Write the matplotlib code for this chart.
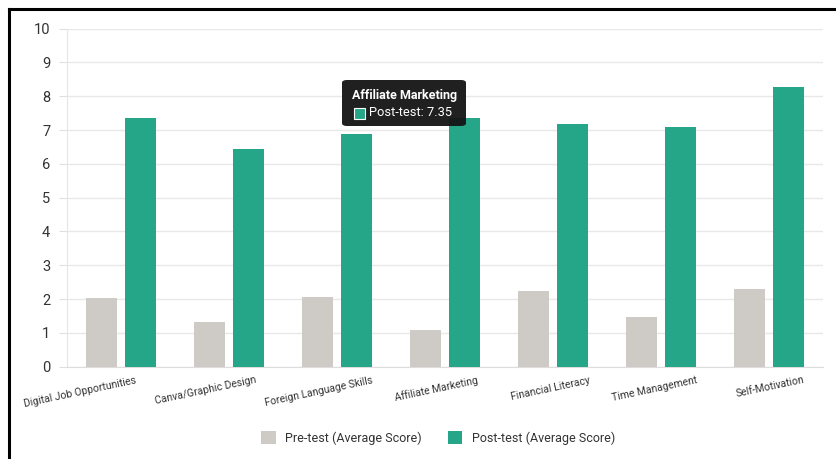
import matplotlib
matplotlib.use("Agg")
import matplotlib.pyplot as plt
import matplotlib.transforms as mtransforms
from matplotlib.patches import FancyBboxPatch, Rectangle
from matplotlib.lines import Line2D
import numpy as np

categories = ["Digital Job Opportunities", "Canva/Graphic Design", "Foreign Language Skills",
              "Affiliate Marketing", "Financial Literacy", "Time Management", "Self-Motivation"]
pre_test = [2.02, 1.31, 2.07, 1.09, 2.23, 1.47, 2.30]
post_test = [7.37, 6.45, 6.88, 7.35, 7.19, 7.09, 8.28]
y_ticks = [0, 1, 2, 3, 4, 5, 6, 7, 8, 9, 10]
series_names = ["Pre-test (Average Score)", "Post-test (Average Score)"]
tooltip_title = "Affiliate Marketing"
tooltip_text = "Post-test: 7.35"

PRE_C = "#CECBC6"
POST_C = "#26A688"
FONT = ["Roboto", "DejaVu Sans"]
plt.rcParams['font.family'] = FONT

fig = plt.figure(figsize=(8.36, 4.59), dpi=100)
fig.patch.set_facecolor("white")
ax = fig.add_axes([67/836, 92.3/459, (823-67)/836, (366.7-28.7)/459])

x = np.arange(len(categories))
w = 0.287
off = 0.176
ax.bar(x - off, pre_test, width=w, color=PRE_C, zorder=3, label=series_names[0])
ax.bar(x + off, post_test, width=w, color=POST_C, zorder=3, label=series_names[1])

ax.set_xlim(-0.5, len(categories) - 0.5)
ax.set_ylim(0, 10)
ax.set_yticks(y_ticks)
ax.set_yticklabels([str(t) for t in y_ticks], fontsize=10.5, color="#333333")
ax.yaxis.grid(True, color="#E8E8E8", linewidth=1, zorder=0)
ax.tick_params(axis='y', length=6, color="#E0E0E0", pad=6)
ax.tick_params(axis='x', length=0, pad=6)
for s in ["top", "right"]:
    ax.spines[s].set_visible(False)
ax.spines["left"].set_color("#E6E6E6")
ax.spines["bottom"].set_color("#DDDDDD")

ax.set_xticks(x)
ax.set_xticklabels(categories, fontsize=7.5, color="#333333", rotation=12,
                   ha="right", va="top", rotation_mode="anchor")
offsets = [14, 26, 35, 32, 36, 35, 34]
for lab, o in zip(ax.get_xticklabels(), offsets):
    lab.set_transform(lab.get_transform() + mtransforms.ScaledTranslation(o/100, 0, fig.dpi_scale_trans))

# tooltip
tx0, ty0, tw, th = 342/836, 1 - 126/459, 124/836, 46/459
box = FancyBboxPatch((tx0, ty0), tw, th, boxstyle="round,pad=0,rounding_size=0.006",
                     transform=fig.transFigure, facecolor="#141414", edgecolor="none", alpha=0.95, zorder=10)
fig.patches.append(box)
fig.text(405/836, 1 - 95/459, tooltip_title, color="white", fontsize=9, fontweight="bold",
         ha="center", va="center", zorder=11)
fig.patches.append(Rectangle((354/836, 1 - 119/459), 11/836, 11/459, transform=fig.transFigure,
                             facecolor=POST_C, edgecolor="white", linewidth=0.8, zorder=11))
fig.text(369/836, 1 - 113/459, tooltip_text, color="white", fontsize=9.3,
         ha="left", va="center", zorder=11)

# legend
leg = fig.legend(loc="center", bbox_to_anchor=(438/836, 1 - 438/459), ncol=2, frameon=False,
                 fontsize=9, handlelength=1.15, handleheight=1.15, columnspacing=2.1, handletextpad=0.75)
for t in leg.get_texts():
    t.set_color("#333333")

# black border (top and left)
fig.add_artist(Line2D([9/836, 1], [1 - 9/459, 1 - 9/459], transform=fig.transFigure, color="black", linewidth=2.2))
fig.add_artist(Line2D([9/836, 9/836], [0, 1 - 9/459], transform=fig.transFigure, color="black", linewidth=2.2))

fig.savefig("out.png", dpi=100, facecolor="white")
